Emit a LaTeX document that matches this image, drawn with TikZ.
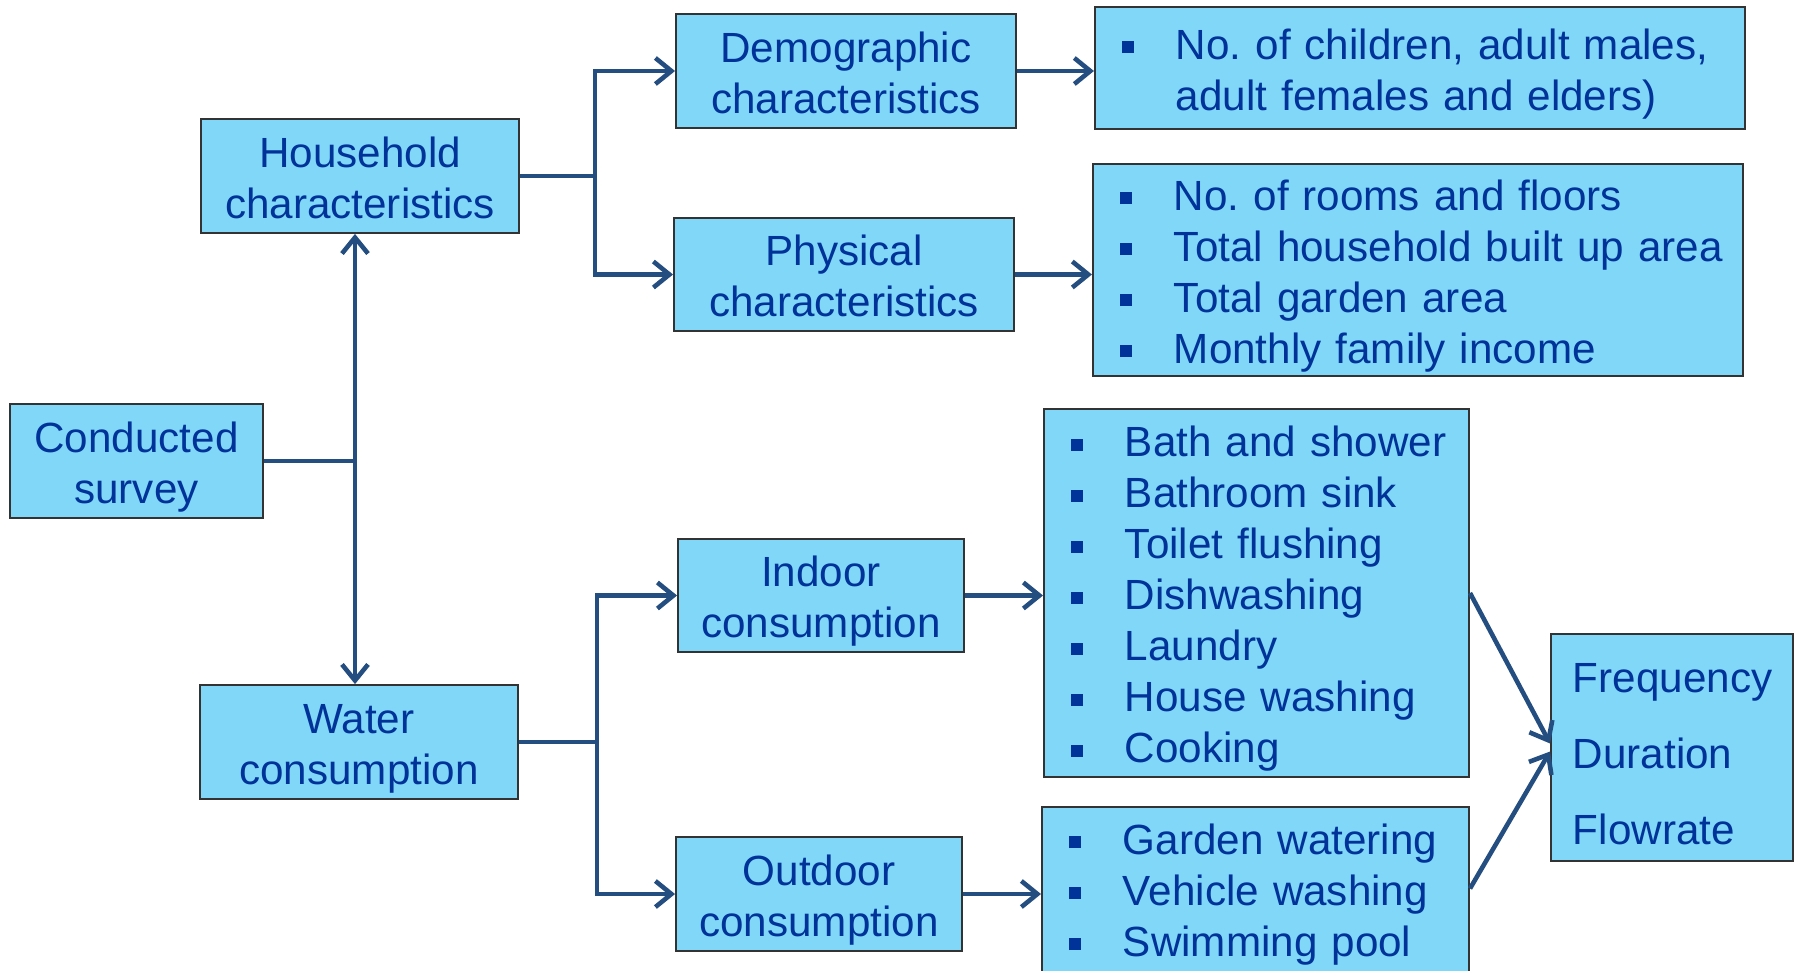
\documentclass[tikz,border=0pt]{standalone}
\usepackage{fontspec}
\setmainfont{Liberation Sans}
\usetikzlibrary{arrows.meta}
\definecolor{boxfill}{RGB}{128,215,247}
\definecolor{txtblue}{RGB}{0,51,153}
\definecolor{linkblue}{RGB}{37,78,128}
\newcommand\pstrut{\rule[-2.5pt]{0pt}{14.4pt}}
\newcommand\fstrut{\rule[-2.5pt]{0pt}{16.8pt}}
\newcommand\mybul{\raisebox{0.06cm}{\rule{0.12cm}{0.12cm}}}
\newcommand\litem[1]{\pstrut\hspace*{0.27cm}\makebox[0.54cm][l]{\mybul}#1}
\begin{document}
\begin{tikzpicture}[x=0.01cm,y=-0.01cm,
  box/.style={draw=black!80, line width=0.5pt, fill=boxfill, text=txtblue,
    font=\fontsize{12}{14.5}\selectfont, inner sep=0pt, align=center},
  lst/.style={box, align=left},
  link/.style={draw=linkblue, line width=1.3pt},
  arr/.style={link, -{Straight Barb[length=1.6mm,width=2.6mm]}}]
\fill[white] (0,0) rectangle (1798,970);
\useasboundingbox (0,0) rectangle (1798,970);

\node[box, minimum width=2.53cm, minimum height=1.14cm] (cs) at (136.5,461) {\pstrut Conducted\\\pstrut survey};
\node[box, minimum width=3.18cm, minimum height=1.14cm] (hh) at (360,176) {\pstrut Household\\\pstrut characteristics};
\node[box, minimum width=3.18cm, minimum height=1.14cm] (wc) at (359,742) {\pstrut Water\\\pstrut consumption};
\node[box, minimum width=3.40cm, minimum height=1.14cm] (demo) at (846,71) {\pstrut Demographic\\\pstrut characteristics};
\node[box, minimum width=3.40cm, minimum height=1.13cm] (phys) at (844,274.5) {\pstrut Physical\\\pstrut characteristics};
\node[box, minimum width=2.86cm, minimum height=1.13cm] (indoor) at (821,595.5) {\pstrut Indoor\\\pstrut consumption};
\node[box, minimum width=2.86cm, minimum height=1.14cm] (outdoor) at (819,894) {\pstrut Outdoor\\\pstrut consumption};

\node[lst, text width=6.50cm, minimum height=1.22cm] (dlist) at (1420,68)
  {\litem{No.\ of children, adult males,}\\\pstrut\hspace*{0.81cm}adult females and elders)};
\node[lst, text width=6.50cm, minimum height=2.12cm] (plist) at (1418,270)
  {\litem{No.\ of rooms and floors}\\\litem{Total household built up area}\\\litem{Total garden area}\\\litem{Monthly family income}};
\node[lst, text width=4.25cm, minimum height=3.68cm] (ilist) at (1256.5,593)
  {\litem{Bath and shower}\\\litem{Bathroom sink}\\\litem{Toilet flushing}\\\litem{Dishwashing}\\\litem{Laundry}\\\litem{House washing}\\\litem{Cooking}};
\node[lst, text width=4.27cm, minimum height=1.73cm] (olist) at (1255.5,893.5)
  {\litem{Garden watering}\\\litem{Vehicle washing}\\\litem{Swimming pool}\rule[-5.35pt]{0pt}{1pt}};
\node[lst, text width=2.42cm, minimum height=2.27cm, font=\fontsize{12}{21.6}\selectfont] (freq) at (1672,747.5)
  {\fstrut\hspace*{0.22cm}Frequency\\\fstrut\hspace*{0.22cm}Duration\\\fstrut\hspace*{0.22cm}Flowrate};

\coordinate (j1) at (355,461);
\coordinate (j2) at (595,176);
\coordinate (j3) at (597,742);

\draw[link] (cs.east) -- (j1);
\draw[arr] (j1) -- (hh.south -| j1);
\draw[arr] (j1) -- (wc.north -| j1);

\draw[link] (hh.east) -- (j2);
\draw[arr] (j2) |- (demo.west);
\draw[arr] (j2) |- (phys.west);

\draw[link] (wc.east) -- (j3);
\draw[arr] (j3) |- (indoor.west);
\draw[arr] (j3) |- (outdoor.west);

\draw[arr] (demo.east) -- (demo.east -| dlist.west);
\draw[arr] (phys.east) -- (phys.east -| plist.west);
\draw[arr] (indoor.east) -- (indoor.east -| ilist.west);
\draw[arr] (outdoor.east) -- (outdoor.east -| olist.west);
\draw[arr] (ilist.east) -- ([yshift=0.04cm]freq.west);
\draw[arr] ([yshift=0.05cm]olist.east) -- ([yshift=-0.04cm]freq.west);
\end{tikzpicture}
\end{document}
